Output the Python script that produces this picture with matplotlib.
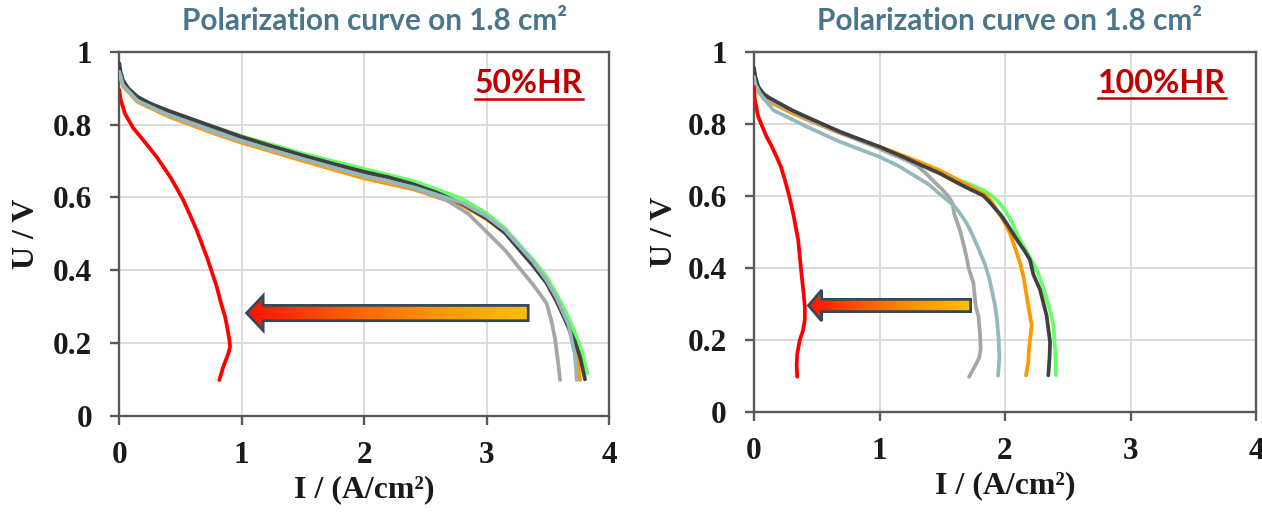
import numpy as np
import matplotlib
matplotlib.use("Agg")
import matplotlib.pyplot as plt
from matplotlib.patches import Polygon
from matplotlib.colors import LinearSegmentedColormap
from matplotlib.lines import Line2D

# ---------------- data ----------------
title_text = "Polarization curve on 1.8 cm²"
xlabel_text = "I / (A/cm²)"
ylabel_text = "U / V"
x_ticks = [0, 1, 2, 3, 4]
y_ticks = [0, 0.2, 0.4, 0.6, 0.8, 1.0]
y_tick_labels = ["0", "0.2", "0.4", "0.6", "0.8", "1"]
panel_tags = ["50%HR", "100%HR"]

series_colors = {
    "green": "#66FF66",
    "orange": "#FF9900",
    "gray": "#A6A6A6",
    "dark": "#404040",
    "lblue": "#95B8BD",
    "red": "#FF0000",
}

# ---- 50%HR panel ----
L_dark_I = [0, 0.01, 0.03, 0.07, 0.15, 0.25, 0.4, 0.6, 0.8, 1.0, 1.25, 1.5, 1.75, 2.0, 2.2, 2.4, 2.6, 2.8,
            3.0, 3.15, 3.27, 3.38, 3.49, 3.57, 3.654, 3.72, 3.763, 3.804]
L_dark_U = [0.968, 0.945, 0.922, 0.9, 0.876, 0.858, 0.838, 0.814, 0.79, 0.766, 0.74, 0.715, 0.692, 0.67, 0.655,
            0.636, 0.612, 0.582, 0.542, 0.502, 0.455, 0.412, 0.364, 0.315, 0.254, 0.205, 0.162, 0.10]
L_green_I = [0, 0.03, 0.15, 0.4, 0.8, 1.0, 1.5, 2.0, 2.4, 2.8, 3.0, 3.15, 3.27, 3.38, 3.49, 3.57, 3.654,
             3.72, 3.78, 3.823]
L_green_U = [0.955, 0.918, 0.872, 0.835, 0.79, 0.768, 0.72, 0.678, 0.645, 0.596, 0.556, 0.515, 0.469, 0.428,
             0.382, 0.335, 0.281, 0.23, 0.175, 0.116]
L_orange_I = [0, 0.03, 0.15, 0.4, 0.8, 1.0, 1.5, 2.0, 2.4, 2.8, 3.0, 3.15, 3.27, 3.38, 3.49, 3.57, 3.65,
              3.7, 3.74, 3.763]
L_orange_U = [0.94, 0.905, 0.862, 0.822, 0.772, 0.75, 0.7, 0.652, 0.622, 0.578, 0.54, 0.503, 0.46, 0.42,
              0.37, 0.32, 0.26, 0.21, 0.16, 0.098]
L_lblue_I = [0, 0.03, 0.15, 0.4, 0.8, 1.0, 1.5, 2.0, 2.4, 2.8, 3.0, 3.15, 3.27, 3.38, 3.49, 3.57, 3.63,
             3.67, 3.7, 3.72, 3.73, 3.736]
L_lblue_U = [0.945, 0.908, 0.865, 0.826, 0.776, 0.754, 0.705, 0.658, 0.628, 0.585, 0.548, 0.51, 0.465,
             0.423, 0.372, 0.325, 0.28, 0.25, 0.2, 0.17, 0.13, 0.098]
L_gray_I = [0, 0.03, 0.15, 0.4, 0.8, 1.0, 1.5, 2.0, 2.13, 2.4, 2.67, 2.85, 3.0, 3.15, 3.27, 3.38, 3.49,
            3.53, 3.56, 3.575, 3.59, 3.6]
L_gray_U = [0.95, 0.91, 0.866, 0.828, 0.78, 0.758, 0.71, 0.664, 0.65, 0.625, 0.593, 0.555, 0.505, 0.455,
            0.405, 0.36, 0.309, 0.26, 0.21, 0.17, 0.13, 0.098]
L_red_I = [0.0, 0.01, 0.046, 0.114, 0.196, 0.305, 0.414, 0.469, 0.523, 0.578, 0.632, 0.673, 0.714, 0.755,
           0.796, 0.828, 0.864, 0.883, 0.899, 0.905, 0.891, 0.85, 0.817]
L_red_U = [0.895, 0.87, 0.83, 0.79, 0.757, 0.711, 0.657, 0.625, 0.592, 0.551, 0.51, 0.473, 0.437, 0.396,
           0.354, 0.313, 0.272, 0.24, 0.208, 0.19, 0.171, 0.135, 0.098]

# ---- 100%HR panel ----
R_dark_I = [0, 0.01, 0.034, 0.08, 0.153, 0.3, 0.418, 0.683, 1.0, 1.2, 1.344, 1.48, 1.608, 1.72, 1.77,
            1.827, 1.87, 1.92, 1.97, 2.013, 2.06, 2.1, 2.15, 2.199, 2.226, 2.279, 2.332, 2.359, 2.355, 2.345]
R_dark_U = [0.955, 0.93, 0.903, 0.88, 0.866, 0.838, 0.819, 0.778, 0.736, 0.706, 0.683, 0.662, 0.638, 0.618,
            0.61, 0.6, 0.585, 0.565, 0.545, 0.523, 0.497, 0.475, 0.45, 0.422, 0.381, 0.339, 0.266, 0.193,
            0.15, 0.101]
R_orange_I = [0, 0.01, 0.034, 0.08, 0.153, 0.3, 0.418, 0.683, 1.0, 1.2, 1.344, 1.48, 1.608, 1.72, 1.8,
              1.854, 1.9, 1.934, 1.99, 2.04, 2.08, 2.12, 2.15, 2.173, 2.213, 2.2, 2.19, 2.186, 2.167]
R_orange_U = [0.94, 0.915, 0.89, 0.868, 0.855, 0.83, 0.812, 0.774, 0.736, 0.71, 0.69, 0.67, 0.647, 0.626,
              0.61, 0.6, 0.58, 0.56, 0.53, 0.495, 0.455, 0.413, 0.37, 0.321, 0.239, 0.202, 0.17, 0.138,
              0.101]
R_green_I = [0, 0.034, 0.153, 0.418, 1.0, 1.344, 1.6, 1.75, 1.83, 1.894, 1.95, 2.0, 2.05, 2.093, 2.14,
             2.18, 2.22, 2.252, 2.3, 2.332, 2.36, 2.385, 2.4, 2.406]
R_green_U = [0.95, 0.898, 0.862, 0.815, 0.733, 0.685, 0.648, 0.627, 0.615, 0.6, 0.582, 0.56, 0.53, 0.495,
             0.465, 0.44, 0.415, 0.394, 0.35, 0.312, 0.28, 0.24, 0.17, 0.101]
R_lblue_I = [0, 0.01, 0.048, 0.153, 0.418, 0.683, 1.0, 1.15, 1.29, 1.39, 1.476, 1.54, 1.6, 1.65, 1.7, 1.74,
             1.78, 1.84, 1.875, 1.9, 1.92, 1.935, 1.95, 1.955, 1.945]
R_lblue_U = [0.93, 0.91, 0.884, 0.838, 0.792, 0.75, 0.708, 0.683, 0.653, 0.632, 0.606, 0.588, 0.57, 0.547,
             0.52, 0.492, 0.46, 0.41, 0.37, 0.33, 0.295, 0.26, 0.2, 0.15, 0.10]
R_gray_I = [0, 0.01, 0.034, 0.153, 0.418, 0.683, 1.0, 1.053, 1.21, 1.3, 1.37, 1.45, 1.503, 1.55, 1.582,
            1.595, 1.61, 1.64, 1.661, 1.69, 1.714, 1.748, 1.767, 1.788, 1.8, 1.806, 1.794, 1.78, 1.75, 1.714]
R_gray_U = [0.95, 0.925, 0.898, 0.86, 0.815, 0.775, 0.731, 0.722, 0.699, 0.683, 0.662, 0.634, 0.616, 0.598,
            0.579, 0.55, 0.535, 0.505, 0.477, 0.435, 0.394, 0.358, 0.292, 0.266, 0.22, 0.174, 0.15, 0.14,
            0.12, 0.097]
R_red_I = [0, 0.005, 0.034, 0.1, 0.14, 0.18, 0.215, 0.246, 0.28, 0.312, 0.352, 0.378, 0.395, 0.405, 0.405,
           0.39, 0.365, 0.344, 0.34, 0.344]
R_red_U = [0.903, 0.87, 0.819, 0.764, 0.738, 0.708, 0.68, 0.644, 0.6, 0.551, 0.477, 0.384, 0.33, 0.292,
           0.255, 0.225, 0.199, 0.16, 0.13, 0.097]

left_series = [("green", L_green_I, L_green_U), ("orange", L_orange_I, L_orange_U),
               ("gray", L_gray_I, L_gray_U), ("dark", L_dark_I, L_dark_U),
               ("lblue", L_lblue_I, L_lblue_U), ("red", L_red_I, L_red_U)]
right_series = [("green", R_green_I, R_green_U), ("orange", R_orange_I, R_orange_U),
                ("gray", R_gray_I, R_gray_U), ("dark", R_dark_I, R_dark_U),
                ("lblue", R_lblue_I, R_lblue_U), ("red", R_red_I, R_red_U)]

# arrow geometry (data coords): tip x, head-back x, tail x, center y, head half-height, shaft half-height
left_arrow = (1.04, 1.175, 3.34, 0.282, 0.048, 0.021)
right_arrow = (0.434, 0.539, 1.726, 0.295, 0.043, 0.017)

# ---------------- figure ----------------
W, H = 1262, 512
fig = plt.figure(figsize=(W / 100, H / 100), dpi=100)
axL = fig.add_axes([119.3 / W, 1 - 415.7 / H, (609.0 - 119.3) / W, (415.7 - 51.7) / H])
axR = fig.add_axes([754.0 / W, 1 - 411.7 / H, (1256.0 - 754.0) / W, (411.7 - 51.7) / H])

SERIF = "Liberation Serif"
SANS = "Lato"
spine_col = "#595959"
text_col = "#1A1A1A"

grad_cmap = LinearSegmentedColormap.from_list("arr", ["#FF1000", "#FF5A00", "#FF9500", "#FFC000"])


def draw_arrow(ax, spec):
    xt, xh, xtail, yc, hh, sh = spec
    verts = [(xt, yc), (xh, yc + hh), (xh, yc + sh), (xtail, yc + sh),
             (xtail, yc - sh), (xh, yc - sh), (xh, yc - hh)]
    poly = Polygon(verts, closed=True, facecolor="none", edgecolor="#2F4B5E", lw=2.0, zorder=6,
                   joinstyle="miter")
    ax.add_patch(poly)
    grad = np.linspace(0, 1, 256).reshape(1, -1)
    im = ax.imshow(grad, cmap=grad_cmap, extent=[xt, xtail, yc - hh, yc + hh], aspect="auto",
                   zorder=5, interpolation="bilinear")
    clip = Polygon(verts, closed=True, transform=ax.transData, facecolor="none", edgecolor="none")
    ax.add_patch(clip)
    im.set_clip_path(clip)


for ax, series, arrow in [(axL, left_series, left_arrow), (axR, right_series, right_arrow)]:
    for name, xs, ys in series:
        ax.plot(xs, ys, color=series_colors[name], lw=2.7, solid_capstyle="round",
                solid_joinstyle="round", zorder=3)
    draw_arrow(ax, arrow)
    ax.set_xlim(0, 4)
    ax.set_ylim(0, 1)
    ax.set_xticks(x_ticks)
    ax.set_xticklabels([str(t) for t in x_ticks])
    ax.set_yticks(y_ticks)
    ax.set_yticklabels(y_tick_labels)
    ax.grid(True, color="#D9D9D9", lw=1.3)
    ax.set_axisbelow(True)
    for sp in ax.spines.values():
        sp.set_color(spine_col)
        sp.set_linewidth(1.7)
    ax.tick_params(direction="out", length=6.5, width=1.7, color=spine_col)
    ax.tick_params(axis="y", pad=13)
    ax.tick_params(axis="x", pad=12)
    for lab in ax.get_xticklabels() + ax.get_yticklabels():
        lab.set_fontfamily(SERIF)
        lab.set_fontweight("bold")
        lab.set_fontsize(22.5)
        lab.set_color(text_col)

r = fig.canvas.get_renderer()


def fit(t, target_px):
    for _ in range(3):
        bb = t.get_window_extent(r)
        t.set_fontsize(t.get_fontsize() * target_px / bb.width)


# titles (centre x px, baseline y px, width px)
for xc in (374.5, 1010.0):
    t = fig.text(xc / W, 1 - 30.0 / H, title_text, ha="center", va="baseline", fontfamily=SANS,
                 fontweight="bold", fontsize=20, color="#4A768D")
    fit(t, 387)

# axis labels
for xc, base in ((364.0, 497.0), (1005.0, 493.0)):
    t = fig.text(xc / W, 1 - base / H, xlabel_text, ha="center", va="baseline", fontfamily=SERIF,
                 fontweight="bold", fontsize=22, color=text_col)
    fit(t, 140)
for xc, yc in ((26.0, 234.0), (664.0, 232.0)):
    fig.text(xc / W, 1 - yc / H, ylabel_text, ha="center", va="center", rotation=90, fontfamily=SERIF,
             fontweight="bold", fontsize=23, color=text_col)

# HR tags (left px, right px, baseline px)
for (x0p, x1p, bp), tag in zip([(475.0, 583.0, 93.3), (1098.0, 1226.0, 92.7)], panel_tags):
    t = fig.text(x0p / W, 1 - bp / H, tag, ha="left", va="baseline", fontfamily=SANS,
                 fontweight="bold", fontsize=23, color="#C00000", zorder=7)
    fit(t, x1p - x0p)
    bb = t.get_window_extent(r)
    yline = 1 - (bp + 5.5) / H
    fig.add_artist(Line2D([bb.x0 / W, bb.x1 / W], [yline, yline], color="#C00000", lw=1.8))

fig.savefig("out.png", dpi=100)
